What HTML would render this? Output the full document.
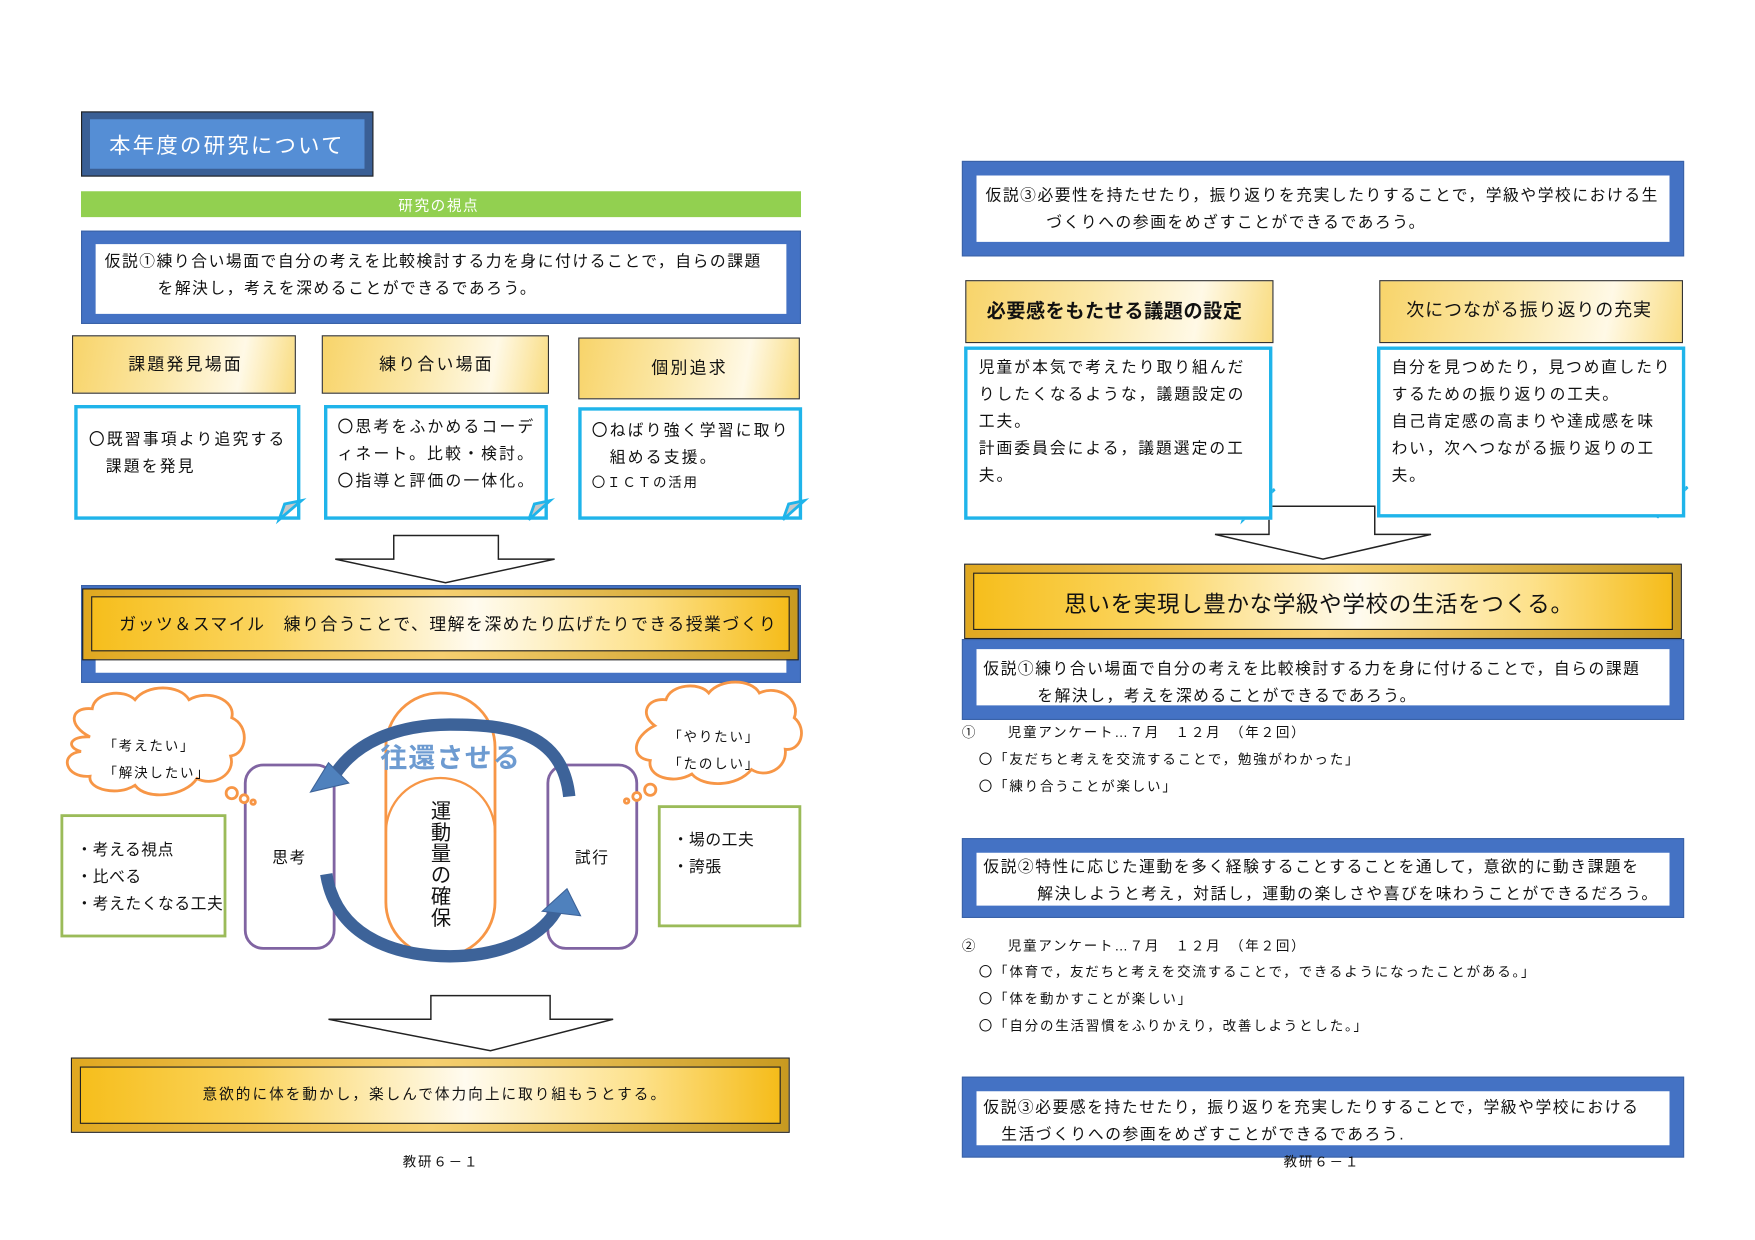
<!DOCTYPE html>
<html><head><meta charset="utf-8">
<style>
html,body{margin:0;padding:0;background:#fff;}
body{width:1755px;height:1240px;overflow:hidden;position:relative;}
#w{position:absolute;left:0;top:0;width:1560px;height:1102px;transform:scale(1.125);transform-origin:0 0;font-family:"Liberation Sans","Noto Sans CJK JP",sans-serif;color:#111;}
.a{position:absolute;box-sizing:border-box;}
.t{position:absolute;white-space:nowrap;font-size:14px;line-height:1;letter-spacing:1.4px;}
.s{font-size:12px;letter-spacing:1.6px;}
.blue{background:#4472c4;border:1px solid #3a62a8;}
.blue>div{position:absolute;left:12px;right:12px;top:11px;bottom:8px;background:#fff;}
.gold{background:linear-gradient(100deg,#f8d46a 0%,#fbe7a6 40%,#fff9e6 75%,#f9dc80 100%);border:1px solid #333;}
.note{border:3px solid #1fb4ea;background:#fff;}
.bev{background:linear-gradient(90deg,#f6be1c 0%,#fbd560 25%,#fffbef 55%,#fde18a 80%,#f5bc1a 100%);border:1px solid #222;}
.frame{background:linear-gradient(90deg,#e0a820,#f6d070 50%,#c89a20);border:1.5px solid #222;}
</style></head><body><div id="w">

<!-- LEFT PAGE -->
<div class="a" style="left:72px;top:99px;width:260px;height:58px;background:#3a5f95;border:1px solid #222;"></div>
<div class="a" style="left:80px;top:106px;width:244px;height:44px;background:#558ed5;"></div>
<div class="t" style="left:97px;top:121px;font-size:19px;color:#fff;letter-spacing:2px;">本年度の研究について</div>

<div class="a" style="left:72px;top:170px;width:640px;height:23px;background:#92d050;"></div>
<div class="t" style="left:354px;top:176px;font-size:13px;color:#fff;">研究の視点</div>

<div class="a blue" style="left:72px;top:205px;width:640px;height:83px;"><div></div></div>
<div class="t" style="left:93px;top:225px;">仮説①練り合い場面で自分の考えを比較検討する力を身に付けることで，自らの課題</div>
<div class="t" style="left:140px;top:249px;">を解決し，考えを深めることができるであろう。</div>

<div class="a gold" style="left:64px;top:298px;width:199px;height:52px;"></div>
<div class="t" style="left:114px;top:317px;font-size:15px;letter-spacing:2px;">課題発見場面</div>
<div class="a gold" style="left:286px;top:298px;width:202px;height:52px;"></div>
<div class="t" style="left:337px;top:317px;font-size:15px;letter-spacing:2px;">練り合い場面</div>
<div class="a gold" style="left:514px;top:300px;width:197px;height:55px;"></div>
<div class="t" style="left:579px;top:320px;font-size:15px;letter-spacing:2px;">個別追求</div>

<div class="a note" style="left:66px;top:360px;width:201px;height:102px;"></div>
<div class="t" style="left:79px;top:383px;letter-spacing:2px;">〇既習事項より追究する</div>
<div class="t" style="left:94px;top:407px;letter-spacing:2px;">課題を発見</div>
<div class="a note" style="left:288px;top:360px;width:199px;height:102px;"></div>
<div class="t" style="left:300px;top:372px;letter-spacing:2px;">〇思考をふかめるコーデ</div>
<div class="t" style="left:300px;top:396px;letter-spacing:2px;">ィネート。比較・検討。</div>
<div class="t" style="left:300px;top:420px;letter-spacing:2px;">〇指導と評価の一体化。</div>
<div class="a note" style="left:514px;top:362px;width:199px;height:100px;"></div>
<div class="t" style="left:526px;top:375px;letter-spacing:2px;">〇ねばり強く学習に取り</div>
<div class="t" style="left:542px;top:399px;letter-spacing:2px;">組める支援。</div>
<div class="t s" style="left:526px;top:423px;">〇ＩＣＴの活用</div>

<svg class="a" style="left:0;top:0;" width="1560" height="1102">
 <g fill="#c8c8c8" stroke="#1fb4ea" stroke-width="2.5">
  <path d="M248,462 L253,448 L268,445 Z"/>
  <path d="M470,462 L475,448 L489,445 Z"/>
  <path d="M696,462 L701,448 L715,445 Z"/>
  <path d="M1105,462 L1110,445 L1133,435 Z"/>
  <path d="M1473,460 L1478,443 L1500,433 Z"/>
 </g>
 <g fill="#fff" stroke="#222" stroke-width="1.3">
  <path d="M350,476 H443 V497 H493 L396,518 L298,497 H350 Z"/>
  <path d="M1128,450 H1222 V475 H1272 L1176,497 L1080,475 H1128 Z"/>
  <path d="M383,885 H489 V906 H545 L436,934 L292,906 H383 Z"/>
 </g>
</svg>

<div class="a blue" style="left:72px;top:520px;width:640px;height:87px;"><div style="top:60px;"></div></div>
<div class="a frame" style="left:73px;top:523px;width:637px;height:64px;"></div>
<div class="a bev" style="left:81px;top:530px;width:621px;height:49px;"></div>
<div class="t" style="left:106px;top:548px;font-size:15px;letter-spacing:1.3px;">ガッツ＆スマイル　練り合うことで、理解を深めたり広げたりできる授業づくり</div>

<!-- diagram -->
<svg class="a" style="left:0;top:600px;" width="760" height="270">
 <rect x="218" y="80" width="79" height="163" rx="16" fill="none" stroke="#8064a2" stroke-width="2.5"/>
 <rect x="487" y="80" width="79" height="163" rx="16" fill="none" stroke="#8064a2" stroke-width="2.5"/>
 <rect x="343" y="16" width="97" height="234" rx="48" fill="none" stroke="#f79646" stroke-width="2.5"/>
 <path d="M343,140 A48,48 0 0 1 440,140" fill="none" stroke="#f79646" stroke-width="2"/>
 <rect x="55" y="125" width="145" height="107" fill="#fff" stroke="#9bbb59" stroke-width="2.5"/>
 <rect x="586" y="117" width="125" height="106" fill="#fff" stroke="#9bbb59" stroke-width="2.5"/>
 <g fill="#fff" stroke="#f79646" stroke-width="2.5">
  <path d="M80,55 C60,45 62,28 82,30 C84,15 110,12 120,22 C130,8 160,8 168,22 C185,12 210,22 206,38 C222,45 220,70 205,72 C210,88 190,100 175,92 C165,108 130,112 120,98 C105,108 78,102 80,90 C58,92 52,70 72,68 C58,64 62,54 80,55 Z"/>
  <circle cx="206" cy="105" r="5"/><circle cx="217" cy="110" r="3.5"/><circle cx="225" cy="113" r="2"/>
  <path d="M582,45 C568,35 575,20 592,22 C596,8 622,6 630,16 C640,3 668,3 675,16 C692,8 712,22 706,38 C718,48 712,68 698,66 C700,84 680,92 668,84 C655,100 625,100 615,88 C598,98 575,90 578,76 C560,74 562,55 582,45 Z"/>
  <circle cx="578" cy="102" r="5"/><circle cx="566" cy="108" r="3.5"/><circle cx="557" cy="112" r="2"/>
 </g>
 <path d="M506,108 C500,50 450,44 400,44 C350,44 315,62 298,88" fill="none" stroke="#3d6399" stroke-width="11"/>
 <path d="M276,104 L292,78 L310,96 Z" fill="#4f81bd" stroke="#3d6399"/>
 <path d="M290,177 C300,238 360,250 400,250 C450,250 485,230 496,206" fill="none" stroke="#3d6399" stroke-width="11"/>
 <path d="M482,210 L504,190 L516,214 Z" fill="#4f81bd" stroke="#3d6399"/>
</svg>
<div class="t" style="left:338px;top:663px;font-size:24px;color:#6d9bd1;font-weight:bold;letter-spacing:1px;">往還させる</div>
<div class="t" style="left:382px;top:712px;font-size:18px;line-height:19px;width:20px;white-space:normal;text-align:center;letter-spacing:0;">運動量の確保</div>
<div class="t" style="left:242px;top:755px;">思考</div>
<div class="t" style="left:511px;top:755px;">試行</div>
<div class="t s" style="left:92px;top:657px;">「考えたい」</div>
<div class="t s" style="left:92px;top:681px;">「解決したい」</div>
<div class="t s" style="left:594px;top:649px;">「やりたい」</div>
<div class="t s" style="left:594px;top:673px;">「たのしい」</div>
<div class="t" style="left:68px;top:748px;letter-spacing:0.5px;">・考える視点</div>
<div class="t" style="left:68px;top:772px;letter-spacing:0.5px;">・比べる</div>
<div class="t" style="left:68px;top:796px;letter-spacing:0.5px;">・考えたくなる工夫</div>
<div class="t" style="left:598px;top:739px;letter-spacing:0.5px;">・場の工夫</div>
<div class="t" style="left:598px;top:763px;letter-spacing:0.5px;">・誇張</div>

<div class="a frame" style="left:63px;top:940px;width:639px;height:67px;"></div>
<div class="a bev" style="left:71px;top:948px;width:623px;height:51px;"></div>
<div class="t" style="left:180px;top:966px;font-size:13px;letter-spacing:1.8px;">意欲的に体を動かし，楽しんで体力向上に取り組もうとする。</div>
<div class="t s" style="left:358px;top:1027px;">教研６－１</div>

<!-- RIGHT PAGE -->
<div class="a blue" style="left:855px;top:143px;width:642px;height:85px;"><div style="top:12px;bottom:12px;"></div></div>
<div class="t" style="left:876px;top:166px;">仮説③必要性を持たせたり，振り返りを充実したりすることで，学級や学校における生</div>
<div class="t" style="left:930px;top:190px;">づくりへの参画をめざすことができるであろう。</div>

<div class="a gold" style="left:858px;top:249px;width:274px;height:56px;"></div>
<div class="t" style="left:877px;top:268px;font-size:17px;font-weight:bold;letter-spacing:0.5px;">必要感をもたせる議題の設定</div>
<div class="a gold" style="left:1226px;top:249px;width:270px;height:56px;"></div>
<div class="t" style="left:1250px;top:269px;font-size:16px;letter-spacing:0.8px;">次につながる振り返りの充実</div>

<div class="a note" style="left:857px;top:308px;width:274px;height:154px;"></div>
<div class="t" style="left:870px;top:319px;letter-spacing:1.8px;">児童が本気で考えたり取り組んだ</div>
<div class="t" style="left:870px;top:343px;letter-spacing:1.8px;">りしたくなるような，議題設定の</div>
<div class="t" style="left:870px;top:367px;letter-spacing:1.8px;">工夫。</div>
<div class="t" style="left:870px;top:391px;letter-spacing:1.8px;">計画委員会による，議題選定の工</div>
<div class="t" style="left:870px;top:415px;letter-spacing:1.8px;">夫。</div>
<div class="a note" style="left:1224px;top:308px;width:274px;height:152px;"></div>
<div class="t" style="left:1237px;top:319px;letter-spacing:1.6px;">自分を見つめたり，見つめ直したり</div>
<div class="t" style="left:1237px;top:343px;letter-spacing:1.6px;">するための振り返りの工夫。</div>
<div class="t" style="left:1237px;top:367px;letter-spacing:1.6px;">自己肯定感の高まりや達成感を味</div>
<div class="t" style="left:1237px;top:391px;letter-spacing:1.6px;">わい，次へつながる振り返りの工</div>
<div class="t" style="left:1237px;top:415px;letter-spacing:1.6px;">夫。</div>

<div class="a frame" style="left:857px;top:501px;width:638px;height:67px;"></div>
<div class="a bev" style="left:865px;top:509px;width:622px;height:51px;"></div>
<div class="t" style="left:946px;top:528px;font-size:20px;letter-spacing:0.6px;">思いを実現し豊かな学級や学校の生活をつくる。</div>

<div class="a blue" style="left:855px;top:568px;width:642px;height:72px;"><div style="top:8px;bottom:12px;"></div></div>
<div class="t" style="left:874px;top:587px;">仮説①練り合い場面で自分の考えを比較検討する力を身に付けることで，自らの課題</div>
<div class="t" style="left:922px;top:611px;">を解決し，考えを深めることができるであろう。</div>

<div class="t s" style="left:855px;top:645px;">①　　児童アンケート…７月　１２月　（年２回）</div>
<div class="t s" style="left:870px;top:669px;">〇「友だちと考えを交流することで，勉強がわかった」</div>
<div class="t s" style="left:870px;top:693px;">〇「練り合うことが楽しい」</div>

<div class="a blue" style="left:855px;top:745px;width:642px;height:71px;"><div style="top:12px;bottom:10px;"></div></div>
<div class="t" style="left:874px;top:763px;">仮説②特性に応じた運動を多く経験することすることを通して，意欲的に動き課題を</div>
<div class="t" style="left:922px;top:787px;">解決しようと考え，対話し，運動の楽しさや喜びを味わうことができるだろう。</div>

<div class="t s" style="left:855px;top:835px;">②　　児童アンケート…７月　１２月　（年２回）</div>
<div class="t s" style="left:870px;top:858px;">〇「体育で，友だちと考えを交流することで，できるようになったことがある。」</div>
<div class="t s" style="left:870px;top:882px;">〇「体を動かすことが楽しい」</div>
<div class="t s" style="left:870px;top:906px;">〇「自分の生活習慣をふりかえり，改善しようとした。」</div>

<div class="a blue" style="left:855px;top:957px;width:642px;height:72px;"><div style="top:12px;bottom:10px;"></div></div>
<div class="t" style="left:874px;top:977px;">仮説③必要感を持たせたり，振り返りを充実したりすることで，学級や学校における</div>
<div class="t" style="left:890px;top:1001px;">生活づくりへの参画をめざすことができるであろう.</div>
<div class="t s" style="left:1141px;top:1027px;">教研６－１</div>

</div></body></html>
